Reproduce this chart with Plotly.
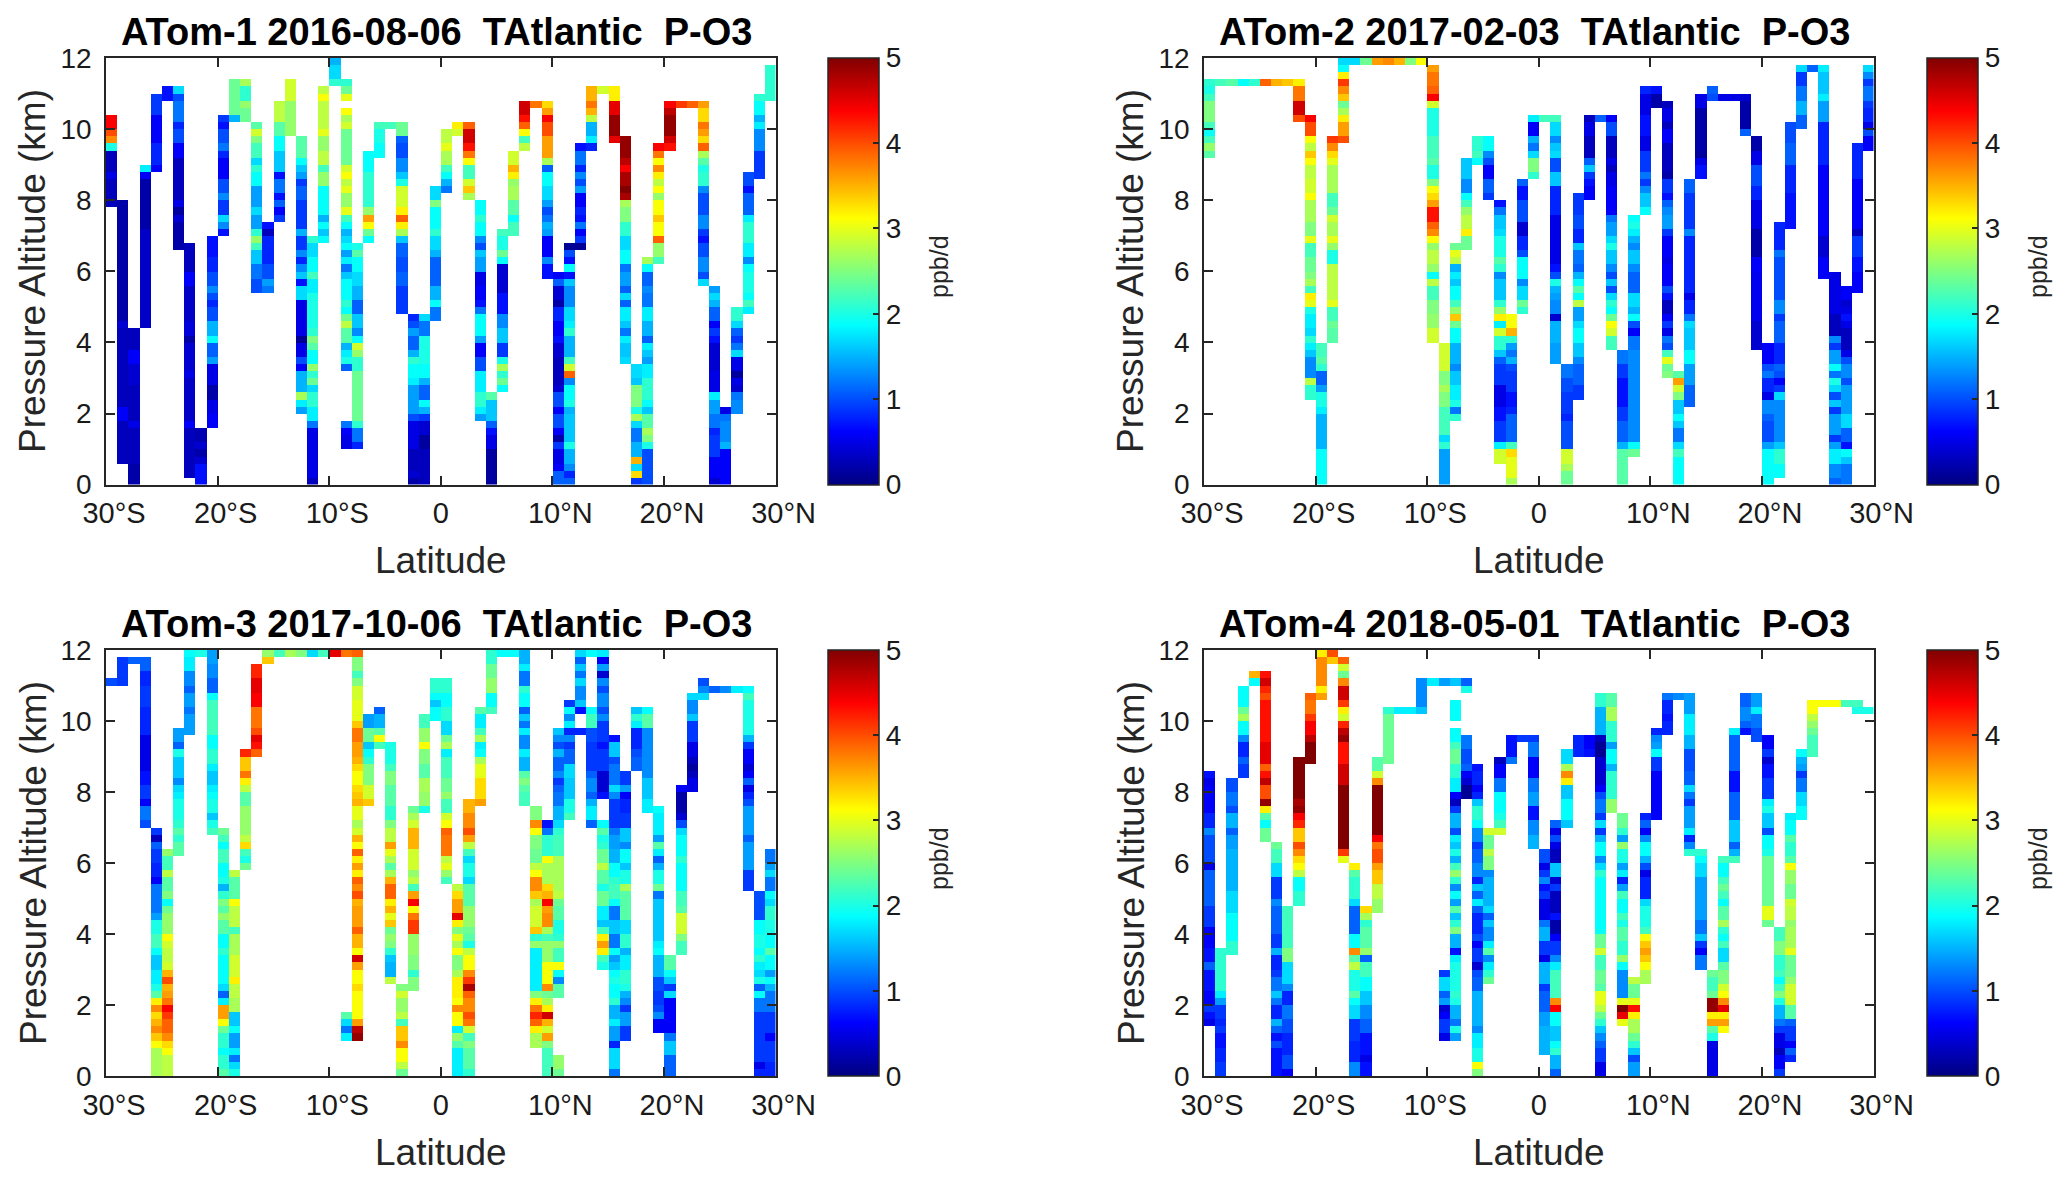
import numpy as np
import plotly.graph_objects as go

# (altitude_low_km, altitude_high_km, P-O3 ppb/d) runs, keyed by latitude bin index (0 = 30-29 deg S)
panel_titles = ["ATom-1 2016-08-06  TAtlantic  P-O3", "ATom-2 2017-02-03  TAtlantic  P-O3",
                "ATom-3 2017-10-06  TAtlantic  P-O3", "ATom-4 2018-05-01  TAtlantic  P-O3"]
lat_ticks = [-30, -20, -10, 0, 10, 20, 30]
lat_labels = ["\u00a0\u00a030°S", "\u00a0\u00a020°S", "\u00a0\u00a010°S", "0", "\u00a0\u00a010°N", "\u00a0\u00a020°N", "\u00a0\u00a030°N"]
alt_ticks = [0, 2, 4, 6, 8, 10, 12]
cbar_ticks = [0, 1, 2, 3, 4, 5]

atom1 = {
0:[(10.0,10.4,4.4),(9.8,10.0,4.0),(9.6,9.8,3.7),(9.4,9.6,2.0),(8.8,9.4,0.3),(8.6,8.8,0.5),(7.8,8.6,0.3)],
1:[(0.6,1.8,0.3),(1.8,2.2,0.6),(2.2,4.4,0.3),(4.4,4.6,0.4),(4.6,8.0,0.2)],
2:[(0,0.6,0.2),(0.6,1.6,0.3),(1.6,1.8,0.5),(1.8,2.8,0.3),(2.8,3.4,0.4),(3.4,3.8,0.6),(3.8,4.4,0.3)],
3:[(4.4,7.2,0.35),(7.2,8.6,0.2),(8.6,8.8,0.6),(8.8,9.0,1.8)],
4:[(8.8,9.0,0.6),(9.0,9.6,0.8),(9.6,10.4,0.6),(10.4,11.0,0.9)],
5:[(10.8,11.2,0.7)],
6:[(6.6,7.4,0.2),(7.4,7.6,0.4),(7.6,7.8,0.15),(7.8,8.0,0.5),(8.0,9.2,0.3),(9.2,9.6,0.6),(9.6,10.0,1.0),(10.0,10.2,0.8),(10.2,10.8,1.2),(10.8,11.0,1.0),(11.0,11.2,1.7)],
7:[(0.2,1.6,0.3),(1.6,1.8,0.6),(1.8,3.0,0.35),(3.0,3.2,0.5),(3.2,4.0,0.4),(4.0,4.2,0.2),(4.2,4.6,0.45),(4.6,5.6,0.35),(5.6,6.0,0.6),(6.0,6.8,0.3)],
8:[(0,0.6,0.7),(0.6,0.8,0.4),(0.8,1.0,0.2),(1.0,1.2,0.4),(1.2,1.6,0.25)],
9:[(1.6,2.0,0.6),(2.0,2.4,0.5),(2.4,2.8,0.2),(2.8,3.4,0.5),(3.4,3.6,1.4),(3.6,4.0,1.1),(4.0,4.2,1.9),(4.2,4.6,1.5),(4.6,5.0,1.0),(5.0,5.2,0.8),(5.2,5.4,1.0),(5.4,5.6,1.3),(5.6,6.0,1.0),(6.0,6.4,0.8),(6.4,7.0,0.7)],
10:[(7.0,7.2,0.7),(7.2,7.4,1.3),(7.4,7.6,1.7),(7.6,8.0,0.9),(8.0,8.2,1.3),(8.2,8.6,1.0),(8.6,9.2,0.6),(9.2,9.4,0.8),(9.4,9.6,1.2),(9.6,10.0,1.0),(10.0,10.2,0.7),(10.2,10.4,0.9)],
11:[(10.2,10.4,1.5),(10.4,11.4,2.4)],
12:[(10.2,10.6,2.4),(10.6,10.8,2.6),(10.8,11.2,2.1),(11.2,11.4,2.7)],
13:[(5.4,5.8,1.0),(5.8,6.2,1.2),(6.2,6.6,1.6),(6.6,6.8,2.2),(6.8,7.0,2.6),(7.0,7.2,2.1),(7.2,7.6,1.4),(7.6,7.8,1.7),(7.8,8.4,1.4),(8.4,8.8,1.9),(8.8,9.0,2.1),(9.0,9.2,1.7),(9.2,9.6,2.2),(9.6,9.8,2.5),(9.8,10.0,2.9),(10.0,10.2,2.3)],
14:[(5.4,5.6,1.2),(5.6,5.8,1.4),(5.8,6.2,1.0),(6.2,7.0,0.8),(7.0,7.2,0.3),(7.2,7.4,0.7)],
15:[(7.4,7.6,0.9),(7.6,7.8,0.6),(7.8,8.0,1.1),(8.0,8.2,0.7),(8.2,8.6,1.2),(8.6,8.8,0.7),(8.8,9.4,1.6),(9.4,9.8,1.9),(9.8,10.2,2.3),(10.2,10.8,2.8)],
16:[(9.8,10.8,2.6),(10.8,11.4,2.9)],
17:[(2.0,2.2,1.4),(2.2,2.4,1.8),(2.4,2.6,2.7),(2.6,3.2,1.5),(3.2,3.4,0.6),(3.4,3.6,1.0),(3.6,4.0,0.5),(4.0,4.2,0.1),(4.2,5.2,0.5),(5.2,5.6,1.7),(5.6,5.8,0.7),(5.8,6.0,1.6),(6.0,6.2,1.3),(6.2,6.4,0.8),(6.4,6.6,1.3),(6.6,7.0,0.9),(7.0,7.2,1.5),(7.2,8.0,0.9),(8.0,8.4,1.1),(8.4,8.6,0.9),(8.6,8.8,1.4),(8.8,9.0,1.6),(9.0,9.2,1.9),(9.2,9.8,2.3)],
18:[(0,0.2,0.3),(0.2,1.6,0.5),(1.6,1.8,1.2),(1.8,2.2,1.8),(2.2,2.6,2.1),(2.6,2.8,1.7),(2.8,3.0,2.4),(3.0,3.2,2.1),(3.2,3.4,2.6),(3.4,3.8,1.9),(3.8,4.0,2.3),(4.0,4.2,2.5),(4.2,4.4,2.1),(4.4,5.4,2.0),(5.4,5.8,1.8),(5.8,6.0,2.2),(6.0,6.4,1.9),(6.4,6.8,1.7),(6.8,7.0,2.1)],
19:[(6.8,7.0,1.9),(7.0,7.2,1.6),(7.2,7.4,1.9),(7.4,7.6,1.5),(7.6,8.4,1.9),(8.4,8.8,2.6),(8.8,9.0,2.2),(9.0,9.4,2.8),(9.4,9.8,2.6),(9.8,10.0,3.0),(10.0,10.8,2.8),(10.8,11.0,3.1),(11.0,11.2,2.8)],
20:[(11.2,11.4,2.1),(11.4,11.8,1.7),(11.8,12,1.5)],
21:[(1.0,1.4,0.5),(1.4,1.6,0.6),(1.6,1.8,1.2),(3.2,3.4,1.1),(3.4,3.6,2.0),(3.6,3.8,1.8),(3.8,4.0,1.5),(4.0,4.4,2.3),(4.4,4.6,2.8),(4.6,4.8,2.4),(4.8,5.0,1.9),(5.0,5.2,2.1),(5.2,5.8,1.9),(5.8,6.0,1.6),(6.0,6.2,1.2),(6.2,6.4,1.8),(6.4,6.6,1.4),(6.6,6.8,1.9),(6.8,7.0,1.7),(7.0,7.2,1.5),(7.2,7.4,1.9),(7.4,7.6,2.2),(7.6,7.8,3.0),(7.8,8.2,2.6),(8.2,8.4,3.0),(8.4,8.6,2.8),(8.6,8.8,3.1),(8.8,9.0,2.9),(9.0,10.0,2.4),(10.0,10.2,2.9),(10.2,10.4,2.7),(10.4,10.6,3.1),(10.8,11.0,3.0),(11.0,11.2,2.4),(11.2,11.4,2.1)],
22:[(1.0,1.2,0.8),(1.2,1.6,1.2),(1.6,1.8,2.1),(1.8,3.2,2.4),(3.2,3.6,2.1),(3.6,3.8,2.6),(3.8,4.0,2.9),(4.0,4.2,1.9),(4.2,4.4,1.3),(4.4,4.8,1.6),(4.8,5.2,1.1),(5.2,5.6,1.5),(5.6,6.0,1.7),(6.0,6.4,1.9),(6.4,6.6,2.3),(6.6,6.8,2.0)],
23:[(6.8,7.0,1.9),(7.0,7.2,2.4),(7.2,7.4,3.1),(7.4,7.6,3.6),(7.6,7.8,2.6),(7.8,8.8,2.1),(8.8,9.4,1.9)],
24:[(9.2,9.6,1.9),(9.6,10.0,2.0),(10.0,10.2,2.2)],
25:[(10.0,10.2,2.2)],
26:[(4.8,5.6,0.9),(5.6,6.0,1.1),(6.0,6.4,1.0),(6.4,6.8,1.1),(6.8,7.0,1.6),(7.0,7.2,2.7),(7.2,7.4,3.2),(7.4,7.6,3.9),(7.6,7.8,3.2),(7.8,8.4,2.9),(8.4,8.6,2.0),(8.6,8.8,1.6),(8.8,9.2,1.3),(9.2,9.6,1.0),(9.6,9.8,1.1),(9.8,10.2,2.4)],
27:[(0,0.2,0.2),(0.2,0.4,0.4),(0.4,1.0,0.3),(1.0,1.8,0.5),(1.8,2.0,1.0),(2.0,2.8,1.4),(2.8,3.0,1.8),(3.0,3.4,1.9),(3.4,3.6,2.1),(3.6,3.8,1.5),(3.8,4.2,1.1),(4.2,4.4,1.4),(4.4,4.6,1.0),(4.6,4.8,0.8)],
28:[(0,1.0,0.3),(1.0,1.4,0.15),(1.4,1.8,0.4),(1.8,2.0,0.9),(2.0,2.2,1.5),(2.2,2.4,1.9),(2.4,2.8,1.1),(2.8,3.0,1.5),(3.0,3.4,1.9),(3.4,4.2,2.0),(4.2,4.6,1.2),(4.6,4.8,1.7)],
29:[(4.6,5.0,1.2),(5.0,5.2,1.9),(5.2,5.6,1.5),(5.6,6.4,1.1),(6.4,6.6,1.5),(6.6,7.0,1.7),(7.0,7.2,2.1),(7.2,7.8,1.9),(7.8,8.0,2.5),(8.0,8.4,1.7)],
30:[(8.2,8.4,1.2),(8.4,8.6,1.5),(8.6,8.8,1.9),(8.8,9.0,2.2),(9.0,9.4,2.7),(9.4,9.6,3.0),(9.6,10.0,2.8)],
31:[(10.0,10.2,3.2),(9.8,10.0,2.9)],
32:[(8.0,8.2,2.7),(8.2,8.4,3.4),(8.4,8.6,2.9),(8.6,9.0,2.2),(9.0,9.2,3.1),(9.2,9.4,3.8),(9.4,9.6,4.3),(9.6,10.0,4.6),(10.0,10.2,3.9)],
33:[(1.8,2.0,1.4),(2.0,2.2,1.8),(2.2,2.6,2.1),(2.6,3.2,1.8),(3.2,3.6,1.0),(3.6,4.0,0.6),(4.0,4.2,1.4),(4.2,4.8,1.9),(4.8,5.0,1.2),(5.0,5.2,0.7),(5.2,5.6,0.6),(5.6,6.0,0.5),(6.0,6.4,1.4),(6.4,6.6,1.6),(6.6,6.8,1.0),(6.8,7.0,1.3),(7.0,7.4,1.9),(7.4,7.6,2.1),(7.6,8.0,1.9)],
34:[(0,1.0,0.15),(1.0,1.4,0.5),(1.4,1.6,0.7),(1.6,1.8,1.1),(1.8,2.4,1.6),(2.4,2.6,2.3)],
35:[(2.6,2.8,1.9),(2.8,3.0,2.4),(3.0,3.2,2.1),(3.2,3.4,2.7),(3.4,3.6,2.0),(3.6,4.0,0.9),(4.0,4.4,1.6),(4.4,4.8,1.3),(4.8,5.4,0.7),(5.4,6.2,0.4),(6.2,6.4,1.9),(6.4,6.6,2.4),(6.6,7.0,2.0),(7.0,7.2,2.2)],
36:[(7.0,7.4,2.2),(7.4,7.6,1.9),(7.6,8.0,2.3),(8.0,8.4,2.7),(8.4,8.6,2.6),(8.6,8.8,3.2),(8.8,9.0,3.5),(9.0,9.4,2.9)],
37:[(9.4,9.6,2.8),(9.6,9.8,2.2),(9.8,10.0,3.1),(10.0,10.2,3.9),(10.2,10.4,4.3),(10.4,10.8,4.6)],
38:[(10.6,10.8,3.8)],
39:[(5.8,6.2,0.7),(6.2,6.4,1.3),(6.4,7.0,0.6),(7.0,7.2,1.4),(7.2,7.4,1.5),(7.4,7.6,1.2),(7.6,7.8,1.0),(7.8,8.0,1.4),(8.0,8.4,1.7),(8.4,8.8,1.9),(8.8,9.0,1.1),(9.0,9.2,2.7),(9.2,9.8,3.6),(9.8,10.2,4.0),(10.2,10.4,4.4),(10.4,10.6,3.6),(10.6,10.8,3.3)],
40:[(0,0.4,1.1),(0.4,0.6,0.6),(0.6,1.0,0.5),(1.0,1.2,0.9),(1.2,1.4,0.2),(1.4,1.6,0.6),(1.6,2.0,1.0),(2.0,2.2,0.6),(2.2,2.6,1.0),(2.6,2.8,0.4),(2.8,3.6,0.3),(3.6,4.0,0.4),(4.0,4.2,0.7),(4.2,4.6,0.6),(4.6,5.0,0.8),(5.0,5.2,0.2),(5.2,5.6,0.4),(5.6,5.8,1.1),(5.8,6.0,0.6)],
41:[(0,0.2,1.1),(0.2,0.4,0.8),(0.4,0.6,1.3),(0.6,1.0,1.5),(1.0,1.2,2.0),(1.2,2.0,1.6),(2.0,2.2,1.5),(2.2,2.4,2.0),(2.4,2.8,1.9),(2.8,3.0,1.3),(3.0,3.2,3.9),(3.2,3.4,2.9),(3.4,3.6,2.2),(3.6,4.2,1.5),(4.2,4.4,2.1),(4.4,4.6,1.8),(4.6,5.0,1.7),(5.0,5.6,1.3),(5.6,5.8,1.6),(5.8,6.0,0.7),(6.0,6.2,1.9),(6.2,6.4,0.7),(6.4,6.6,1.0),(6.6,6.8,0.1)],
42:[(6.6,6.8,0.1),(6.8,7.0,0.9),(7.0,7.2,0.6),(7.2,7.4,1.2),(7.4,7.6,0.7),(7.6,7.8,0.8),(7.8,8.2,0.6),(8.2,8.4,1.4),(8.4,8.6,1.0),(8.6,8.8,1.3),(8.8,9.0,0.8),(9.0,9.4,1.2),(9.4,9.6,0.7)],
43:[(9.4,9.6,0.8),(9.6,9.8,1.8),(9.8,10.2,1.5),(10.2,10.4,2.8),(10.4,10.6,3.5),(10.6,10.8,3.8),(10.8,11.2,3.5)],
44:[(11.0,11.2,2.9)],
45:[(9.6,9.8,4.5),(9.8,10.4,4.9),(10.4,10.8,4.5),(10.8,11.2,3.2)],
46:[(3.4,3.6,1.7),(3.6,4.0,1.6),(4.0,4.2,1.8),(4.2,4.4,1.2),(4.4,4.6,1.6),(4.6,5.0,1.8),(5.0,5.2,1.1),(5.2,5.4,1.7),(5.4,5.6,1.1),(5.6,6.0,1.4),(6.0,6.2,1.2),(6.2,6.6,1.9),(6.6,7.0,1.7),(7.0,7.4,2.1),(7.4,7.8,2.5),(7.8,8.0,2.7),(8.0,8.2,4.8),(8.2,8.4,5.0),(8.4,8.8,4.8),(8.8,9.0,4.4),(9.0,9.2,4.7),(9.2,9.8,4.9)],
47:[(0,0.2,0.9),(0.2,0.4,3.3),(0.4,0.6,1.7),(0.6,0.8,3.5),(0.8,1.2,1.5),(1.2,1.6,1.2),(1.6,1.8,1.7),(1.8,2.0,2.7),(2.0,2.2,2.0),(2.2,2.8,2.5),(2.8,3.0,1.6),(3.0,3.4,1.7)],
48:[(0,1.0,1.0),(1.0,1.2,2.0),(1.2,1.4,2.5),(1.4,1.6,2.7),(1.6,2.0,2.3),(2.0,2.2,1.6),(2.2,2.4,1.9),(2.4,3.0,2.1),(3.0,3.4,1.8),(3.4,3.6,1.4),(3.6,3.8,1.6),(3.8,4.0,1.8),(4.0,4.2,1.1),(4.2,4.6,1.5),(4.6,5.0,1.8),(5.0,5.4,1.2),(5.4,5.6,1.3),(5.6,6.0,1.1),(6.0,6.2,1.9),(6.2,6.4,2.7)],
49:[(6.2,6.4,2.2),(6.4,6.8,2.6),(6.8,7.0,3.9),(7.0,7.4,3.1),(7.4,7.6,3.4),(7.6,8.0,3.1),(8.0,8.2,2.6),(8.2,8.4,3.1),(8.4,8.6,2.8),(8.6,8.8,3.2),(8.8,9.0,3.7),(9.0,9.2,3.1),(9.2,9.4,3.8),(9.4,9.6,4.4)],
50:[(9.4,9.6,4.3),(9.6,9.8,4.6),(9.8,10.4,4.9),(10.4,10.6,4.7),(10.6,10.8,4.4)],
51:[(10.6,10.8,4.1)],
52:[(10.6,10.8,3.9)],
53:[(5.6,5.8,1.7),(5.8,6.0,1.0),(6.0,6.4,1.3),(6.4,6.8,1.0),(6.8,7.0,0.7),(7.0,7.2,0.9),(7.2,7.6,1.3),(7.6,8.2,1.0),(8.2,8.4,1.3),(8.4,8.8,2.1),(8.8,9.0,2.0),(9.0,9.2,2.3),(9.2,9.4,2.7),(9.4,9.6,3.9),(9.6,9.8,3.3),(9.8,10.0,3.6),(10.0,10.2,3.8),(10.2,10.6,3.3),(10.6,10.8,3.6)],
54:[(0,0.2,0.4),(0.2,0.8,0.6),(0.8,1.4,0.9),(1.4,1.6,0.8),(1.6,2.0,1.2),(2.0,2.4,1.4),(2.4,2.6,1.8),(2.6,3.2,0.5),(3.2,4.0,0.4),(4.0,4.2,0.7),(4.2,4.4,0.9),(4.4,4.6,0.6),(4.6,5.0,1.1),(5.0,5.2,1.5),(5.2,5.4,1.7),(5.4,5.6,1.4)],
55:[(0,1.0,0.6),(1.0,1.2,1.5),(1.2,1.8,1.3),(1.8,2.0,1.2),(2.0,2.2,0.5)],
56:[(2.0,2.4,1.3),(2.4,2.6,1.2),(2.6,2.8,0.4),(2.8,3.0,0.5),(3.0,3.2,0.15),(3.2,3.6,0.5),(3.6,3.8,1.7),(3.8,4.0,1.2),(4.0,4.2,0.9),(4.2,4.4,1.1),(4.4,4.6,1.7),(4.6,5.0,2.1)],
57:[(4.8,5.0,1.8),(5.0,5.2,2.2),(5.2,5.4,1.9),(5.4,6.0,2.0),(6.0,6.2,1.9),(6.2,6.4,1.3),(6.4,6.8,1.8),(6.8,7.4,2.1),(7.4,7.6,1.8),(7.6,8.2,1.1),(8.2,8.4,0.7),(8.4,8.8,1.0)],
58:[(8.6,9.4,0.9),(9.4,10.0,1.3),(10.0,10.2,1.8),(10.2,10.4,1.5),(10.4,10.8,1.9),(10.8,11.0,2.1)],
59:[(10.8,11.8,2.1)],
}

atom2 = {
0:[(9.2,9.4,2.3),(9.4,9.6,2.6),(9.6,9.8,2.2),(9.8,10.0,1.9),(10.0,10.2,2.2),(10.2,10.8,2.5),(10.8,11.0,2.2),(11.0,11.2,2.0),(11.2,11.4,2.1)],
1:[(11.2,11.4,2.2)],2:[(11.2,11.4,2.3)],3:[(11.2,11.4,1.9)],4:[(11.2,11.4,2.1)],5:[(11.2,11.4,3.9)],6:[(11.2,11.4,3.5)],7:[(11.2,11.4,3.4)],
8:[(10.2,10.4,4.0),(10.4,10.8,4.6),(10.8,11.2,3.8),(11.2,11.4,3.2)],
9:[(2.4,2.8,2.1),(2.8,3.0,2.8),(3.0,3.6,1.3),(3.6,3.8,1.6),(3.8,4.0,1.8),(4.0,4.2,2.1),(4.2,4.4,1.7),(4.4,4.8,1.8),(4.8,5.0,2.0),(5.0,5.2,3.0),(5.2,5.4,3.2),(5.4,5.6,2.2),(5.6,5.8,2.7),(5.8,6.0,2.5),(6.0,6.4,2.4),(6.4,6.8,2.2),(6.8,7.0,3.0),(7.0,7.4,2.5),(7.4,8.0,2.7),(8.0,8.2,3.1),(8.2,8.6,2.9),(8.6,9.0,2.8),(9.0,9.2,3.1),(9.2,9.4,3.4),(9.4,9.6,2.8),(9.6,9.8,3.1),(9.8,10.2,4.0),(10.2,10.4,4.4)],
10:[(0,1.0,1.9),(1.0,2.0,1.5),(2.0,2.2,1.8),(2.2,2.6,2.0),(2.6,2.8,1.4),(2.8,3.2,1.1),(3.2,3.4,2.1),(3.4,3.6,2.3),(3.6,4.0,2.2)],
11:[(4.0,4.4,2.3),(4.4,4.6,2.4),(4.6,5.0,2.2),(5.0,5.2,3.0),(5.2,6.2,2.8),(6.2,6.6,2.0),(6.6,6.8,2.6),(6.8,7.0,3.0),(7.0,7.4,2.7),(7.4,7.6,2.9),(7.6,7.8,2.4),(7.8,8.2,2.2),(8.2,9.0,2.7),(9.0,9.2,3.0),(9.2,9.4,3.3),(9.4,9.6,3.7),(9.6,9.8,4.1)],
12:[(9.6,9.8,4.0),(9.8,10.2,3.6),(10.2,10.4,3.2),(10.4,10.6,2.7),(10.6,10.8,2.4),(10.8,11.0,3.4),(11.0,11.2,3.7),(11.2,11.4,4.1),(11.4,11.6,3.2),(11.6,11.8,1.9),(11.8,12.0,1.7)],
13:[(11.8,12,1.7)],14:[(11.8,12,2.4)],15:[(11.8,12,3.6)],16:[(11.8,12,3.7)],17:[(11.8,12,3.5)],18:[(11.8,12,2.5)],19:[(11.8,12,3.1)],
20:[(4.0,4.4,2.9),(4.4,4.8,2.6),(4.8,5.2,2.5),(5.2,5.6,2.2),(5.6,5.8,2.8),(5.8,6.0,1.9),(6.0,6.2,2.6),(6.2,6.6,2.8),(6.6,6.8,2.6),(6.8,7.0,3.1),(7.0,7.2,3.7),(7.2,7.4,3.9),(7.4,7.8,4.3),(7.8,8.0,3.6),(8.0,8.2,3.3),(8.2,8.4,3.1),(8.4,8.6,2.5),(8.6,9.0,2.0),(9.0,9.2,2.3),(9.2,9.8,2.2),(9.8,10.6,2.0),(10.6,10.8,2.9),(10.8,11.0,4.4),(11.0,11.2,3.9),(11.2,11.6,3.8),(11.6,11.8,3.6)],
21:[(0,1.0,1.4),(1.0,1.2,2.1),(1.2,1.4,1.7),(1.4,2.2,2.2),(2.2,2.6,2.5),(2.6,2.8,2.7),(2.8,3.2,2.5),(3.2,4.0,2.9)],
22:[(1.8,2.0,2.1),(2.0,2.2,1.2),(2.2,2.4,2.0),(2.4,2.8,1.8),(2.8,3.2,1.6),(3.2,3.4,1.3),(3.4,4.0,1.5),(4.0,4.4,1.9),(4.4,4.6,2.4),(4.6,4.8,3.4),(4.8,5.0,2.6),(5.0,5.2,2.2),(5.2,5.6,1.9),(5.6,5.8,1.6),(5.8,6.0,1.8),(6.0,6.2,1.5),(6.2,6.4,2.8),(6.4,6.6,3.0),(6.6,6.8,2.4)],
23:[(6.6,7.0,2.4),(7.0,7.2,3.2),(7.2,7.6,2.8),(7.6,7.8,2.6),(7.8,8.0,2.2),(8.0,8.2,1.9),(8.2,8.6,1.3),(8.6,9.2,1.6)],
24:[(9.0,9.2,1.9),(9.2,9.4,2.2),(9.4,9.8,2.1)],
25:[(8.0,8.2,0.9),(8.2,8.6,1.1),(8.6,9.0,0.6),(9.0,9.2,1.0),(9.2,9.4,1.3),(9.4,9.8,1.9)],
26:[(0.6,1.0,2.9),(1.0,1.2,1.8),(1.2,1.8,0.9),(1.8,2.2,0.7),(2.2,2.8,0.5),(2.8,3.4,0.9),(3.4,3.6,1.1),(3.6,3.8,1.6),(3.8,4.2,2.1),(4.2,4.4,2.9),(4.4,4.6,1.8),(4.6,4.8,3.2),(4.8,5.0,2.6),(5.0,5.2,2.1),(5.2,5.8,1.6),(5.8,6.0,1.3),(6.0,6.2,2.1),(6.2,6.4,2.3),(6.4,7.0,2.0),(7.0,7.2,1.7),(7.2,7.6,1.6),(7.6,7.8,1.2),(7.8,8.0,0.7)],
27:[(0,0.2,2.7),(0.2,0.8,3.0),(0.8,1.0,3.3),(1.0,1.2,2.2),(1.2,2.0,1.1),(2.0,2.2,0.8),(2.2,2.6,0.7),(2.6,3.2,0.9),(3.2,3.4,1.0),(3.4,3.6,1.5),(3.6,3.8,1.2),(3.8,4.0,1.4),(4.0,4.2,2.1),(4.2,4.4,3.5),(4.4,4.8,3.1)],
28:[(4.8,5.0,2.1),(5.0,5.2,2.4),(5.2,5.6,1.7),(5.6,5.8,1.3),(5.8,6.4,1.9),(6.4,6.6,1.0),(6.6,7.0,0.8),(7.0,7.4,0.4),(7.4,8.0,1.0),(8.0,8.4,0.7),(8.4,8.6,1.1)],
29:[(8.6,8.8,2.1),(8.8,9.2,2.5),(9.2,9.4,1.7),(9.4,9.6,1.2),(9.6,9.8,1.5),(9.8,10.2,0.6),(10.2,10.4,1.8)],
30:[(10.2,10.4,2.2)],
31:[(3.4,4.0,1.4),(4.0,4.6,1.5),(4.6,4.8,0.4),(4.8,5.2,1.3),(5.2,5.4,1.4),(5.4,5.6,1.5),(5.6,5.8,2.0),(5.8,6.0,1.0),(6.0,6.2,0.7),(6.2,7.2,0.5),(7.2,7.6,0.5),(7.6,8.4,0.8),(8.4,8.8,1.6),(8.8,9.2,1.0),(9.2,9.4,1.7),(9.4,9.6,1.6),(9.6,9.8,1.3),(9.8,10.2,1.7),(10.2,10.4,2.2)],
32:[(0,0.4,2.4),(0.4,0.6,2.7),(0.6,1.0,2.9),(1.0,1.8,1.0),(1.8,2.0,0.8),(2.0,2.6,0.9),(2.6,3.0,1.0),(3.0,3.4,1.2)],
33:[(2.4,2.8,0.9),(2.8,3.4,1.1),(3.4,3.6,1.3),(3.6,4.0,1.6),(4.0,4.4,1.9),(4.4,4.6,1.7),(4.6,5.0,1.4),(5.0,5.2,2.8),(5.2,5.4,1.9),(5.4,5.6,2.3),(5.6,5.8,1.9),(5.8,6.0,1.5),(6.0,6.2,1.1),(6.2,6.6,1.2),(6.6,6.8,1.6),(6.8,7.2,0.8),(7.2,7.6,1.0),(7.6,8.2,0.9)],
34:[(8.0,8.4,0.6),(8.4,8.6,0.7),(8.6,8.8,0.9),(8.8,9.0,1.6),(9.0,9.2,1.1),(9.2,9.8,0.3),(9.8,10.2,0.5),(10.2,10.4,0.3)],
35:[(10.2,10.4,1.1)],
36:[(3.8,4.2,2.2),(4.2,4.4,2.9),(4.4,4.6,3.1),(4.6,4.8,2.4),(4.8,5.0,1.9),(5.0,5.2,2.1),(5.2,5.4,1.7),(5.4,5.6,1.0),(5.6,5.8,1.6),(5.8,6.0,1.0),(6.0,6.2,1.3),(6.2,6.6,1.6),(6.6,6.8,2.0),(6.8,7.0,1.7),(7.0,7.4,1.4),(7.4,7.6,1.2),(7.6,8.4,0.6),(8.4,8.8,0.5),(8.8,9.0,0.3),(9.0,9.2,0.5),(9.2,9.8,0.3),(9.8,10.2,1.0),(10.2,10.4,0.6)],
37:[(0,1.0,2.3),(1.0,1.2,1.5),(1.2,1.8,1.1),(1.8,2.2,0.9),(2.2,3.0,0.7),(3.0,3.4,0.9),(3.4,3.8,1.2)],
38:[(0.8,1.0,2.4),(1.0,1.2,1.9),(1.2,3.8,1.3),(3.8,4.2,1.2),(4.2,4.4,0.6),(4.4,4.6,1.0),(4.6,4.8,1.9),(4.8,5.0,1.5),(5.0,5.4,1.7),(5.4,6.0,1.1),(6.0,6.2,1.3),(6.2,6.6,1.6),(6.6,6.8,1.3),(6.8,7.0,1.5),(7.0,7.2,1.8),(7.2,7.4,2.0),(7.4,7.6,1.9)],
39:[(7.6,7.8,1.9),(7.8,8.2,1.6),(8.2,8.4,1.3),(8.4,8.6,0.9),(8.6,8.8,1.2),(8.8,9.4,0.9),(9.4,9.8,0.5),(9.8,10.4,0.7),(10.4,11.0,0.5),(11.0,11.2,0.8)],
40:[(10.6,11.0,0.2),(11.0,11.2,0.7)],
41:[(3.0,3.2,2.5),(3.2,3.4,2.4),(3.4,3.6,3.0),(3.6,3.8,2.2),(3.8,4.0,1.0),(4.0,4.2,1.2),(4.2,4.4,0.5),(4.4,4.6,0.9),(4.6,4.8,0.6),(4.8,5.2,0.3),(5.2,5.4,0.7),(5.4,5.6,1.0),(5.6,6.2,0.6),(6.2,6.4,0.5),(6.4,7.0,0.6),(7.0,7.2,0.9),(7.2,7.6,1.4),(7.6,7.8,1.3),(7.8,8.0,1.1),(8.0,8.2,0.7),(8.2,8.6,0.9),(8.6,8.8,0.2),(8.8,9.6,0.3),(9.6,10.0,0.6),(10.0,10.2,0.3),(10.2,10.6,0.5),(10.6,10.8,0.3)],
42:[(0,0.8,1.9),(0.8,1.0,2.2),(1.0,1.2,1.7),(1.2,1.6,1.2),(1.6,1.8,1.6),(1.8,2.0,1.9),(2.0,2.4,1.6),(2.4,2.6,2.5),(2.6,2.8,2.9),(2.8,3.0,3.6),(3.0,3.2,2.3)],
43:[(2.2,2.8,1.1),(2.8,3.4,1.4),(3.4,3.8,1.9),(3.8,4.4,1.6),(4.4,4.6,1.7),(4.6,4.8,1.2),(4.8,5.2,0.8),(5.2,5.4,0.5),(5.4,7.0,0.8),(7.0,7.2,1.3),(7.2,7.6,0.9),(7.6,8.2,0.9),(8.2,8.6,1.1)],
44:[(8.6,9.0,0.7),(9.0,9.2,0.5),(9.2,9.4,0.15),(9.4,10.6,0.2),(10.6,11.0,0.5)],
45:[(10.8,11.0,1.0),(11.0,11.2,1.1)],
46:[(10.8,11.0,0.5)],47:[(10.8,11.0,0.5)],
48:[(9.8,10.0,1.1),(10.0,10.8,0.2),(10.8,11.0,0.4)],
49:[(3.8,4.6,0.4),(4.6,6.0,0.55),(6.0,6.4,0.6),(6.4,7.2,0.2),(7.2,8.0,0.5),(8.0,8.4,0.8),(8.4,9.0,1.0),(9.0,9.4,0.5),(9.4,9.8,0.2)],
50:[(0,1.0,1.9),(1.0,1.2,1.4),(1.2,1.8,1.0),(1.8,2.0,1.1),(2.0,2.4,1.3),(2.4,2.6,0.5),(2.6,3.0,0.8),(3.0,3.2,1.2),(3.2,3.4,1.0),(3.4,4.0,0.6)],
51:[(0.2,0.6,1.9),(0.6,1.0,2.1),(1.0,1.2,1.6),(1.2,2.4,1.3),(2.4,2.6,1.7),(2.6,2.8,0.9),(2.8,3.0,0.6),(3.0,3.2,1.0),(3.2,3.4,1.1),(3.4,4.0,0.8),(4.0,4.6,1.1),(4.6,4.8,0.9),(4.8,5.2,1.3),(5.2,6.4,1.0),(6.4,6.6,1.2),(6.6,7.4,0.8)],
52:[(7.2,8.2,0.7),(8.2,9.0,0.8),(9.0,9.6,1.1),(9.6,10.2,1.0)],
53:[(10.0,10.4,1.1),(10.4,10.8,1.5),(10.8,11.2,1.2),(11.2,11.6,0.9),(11.6,11.8,1.7)],
54:[(11.6,11.8,1.1)],
55:[(5.8,6.4,0.6),(6.4,7.0,0.4),(7.0,9.0,0.6),(9.0,10.2,0.8),(10.2,10.8,1.4),(10.8,11.0,1.8),(11.0,11.6,1.6),(11.6,11.8,1.8)],
56:[(0,0.2,1.1),(0.2,0.6,1.3),(0.6,1.0,1.8),(1.0,1.2,1.4),(1.2,1.4,0.9),(1.4,2.0,1.4),(2.0,2.2,0.9),(2.2,2.4,1.6),(2.4,2.6,1.0),(2.6,2.8,1.7),(2.8,3.0,2.0),(3.0,3.2,1.2),(3.2,3.4,1.9),(3.4,3.8,1.4),(3.8,4.0,0.9),(4.0,4.2,1.3),(4.2,4.8,0.3),(4.8,6.0,0.5)],
57:[(0,0.6,1.2),(0.6,0.8,1.6),(0.8,1.0,1.9),(1.0,1.2,0.7),(1.2,1.6,1.1),(1.6,2.0,1.7),(2.0,2.8,1.4),(2.8,3.0,1.0),(3.0,3.4,1.3),(3.4,3.6,1.0),(3.6,3.8,0.5),(3.8,4.4,0.3),(4.4,4.6,0.5),(4.6,4.8,0.7),(4.8,5.0,0.5),(5.0,5.2,0.4),(5.2,5.6,0.6)],
58:[(5.4,6.0,0.6),(6.0,6.4,0.7),(6.4,7.0,0.9),(7.0,7.2,0.3),(7.2,8.6,0.6),(8.6,9.6,0.8)],
59:[(9.4,9.8,0.6),(9.8,10.0,1.0),(10.0,10.2,0.5),(10.2,10.6,0.8),(10.6,10.8,0.9),(10.8,11.2,1.2),(11.2,11.4,0.9),(11.4,11.6,1.3),(11.6,11.8,1.7)],
}

atom3 = {
0:[(11.0,11.2,1.0)],
1:[(11.0,11.8,0.9)],
2:[(11.6,11.8,1.1)],
3:[(7.0,7.2,1.0),(7.2,7.6,1.2),(7.6,7.8,0.6),(7.8,8.2,0.9),(8.2,8.6,0.7),(8.6,9.6,0.5),(9.6,10.4,0.8),(10.4,11.0,0.9),(11.0,11.4,0.8),(11.4,11.8,1.1)],
4:[(0,0.8,2.7),(0.8,1.0,3.1),(1.0,1.2,3.4),(1.2,1.4,3.7),(1.4,1.6,3.5),(1.6,1.8,3.3),(1.8,2.0,3.7),(2.0,2.2,3.2),(2.2,2.4,2.3),(2.4,2.6,2.0),(2.6,3.0,1.8),(3.0,3.4,1.6),(3.4,3.6,1.9),(3.6,4.0,2.2),(4.0,4.4,2.0),(4.4,4.6,1.4),(4.6,5.4,1.2),(5.4,5.6,0.6),(5.6,6.0,0.8),(6.0,6.4,0.9),(6.4,6.6,1.1),(6.6,6.8,0.3),(6.8,7.0,0.9)],
5:[(0,0.6,2.8),(0.6,0.8,3.1),(0.8,1.0,3.3),(1.0,1.2,3.7),(1.2,1.6,3.9),(1.6,1.8,4.1),(1.8,2.0,4.4),(2.0,2.2,3.8),(2.2,2.4,3.6),(2.4,2.6,3.5),(2.6,2.8,4.0),(2.8,3.0,3.5),(3.0,3.2,2.9),(3.2,3.6,2.8),(3.6,3.8,2.9),(3.8,4.0,3.1),(4.0,4.6,2.6),(4.6,4.8,2.4),(4.8,5.0,1.9),(5.0,5.2,2.5),(5.2,5.6,2.3),(5.6,5.8,2.8),(5.8,6.2,2.2),(6.2,6.4,2.6)],
6:[(6.2,6.6,2.3),(6.6,6.8,2.1),(6.8,7.0,2.3),(7.0,7.2,2.1),(7.2,7.8,2.0),(7.8,8.0,1.8),(8.0,8.2,1.7),(8.2,8.4,1.3),(8.4,9.0,1.6),(9.0,9.2,2.0),(9.2,9.4,1.1),(9.4,9.8,1.4)],
7:[(9.6,10.2,1.4),(10.2,10.4,1.2),(10.4,10.8,1.4),(10.8,11.0,1.1),(11.0,11.4,1.3),(11.4,11.8,1.8),(11.8,12,1.9)],
8:[(11.8,12,2.0)],
9:[(6.8,7.0,2.2),(7.0,7.2,2.0),(7.2,7.4,1.6),(7.4,7.8,2.0),(7.8,8.0,1.9),(8.0,8.2,1.8),(8.2,8.6,1.6),(8.6,8.8,1.8),(8.8,9.2,2.1),(9.2,9.6,1.9),(9.6,10.6,2.2),(10.6,10.8,1.9),(10.8,11.2,1.1),(11.2,11.6,1.3),(11.6,12,1.4)],
10:[(0,0.2,2.3),(0.2,0.6,2.1),(0.6,0.8,1.9),(0.8,1.2,2.1),(1.2,1.4,2.4),(1.4,1.6,3.1),(1.6,2.0,3.6),(2.0,2.2,1.8),(2.2,2.4,1.1),(2.4,2.6,1.7),(2.6,3.4,1.9),(3.4,3.6,2.1),(3.6,4.0,1.9),(4.0,4.4,2.3),(4.4,4.6,2.6),(4.6,4.8,2.3),(4.8,5.0,2.5),(5.0,5.2,2.1),(5.2,5.4,1.5),(5.4,5.6,2.0),(5.6,6.0,1.9),(6.0,6.4,2.2),(6.4,6.6,1.9),(6.6,6.8,2.2),(6.8,7.0,2.4)],
11:[(0,0.2,2.0),(0.2,0.4,1.7),(0.4,0.6,1.2),(0.6,0.8,1.8),(0.8,1.2,1.4),(1.2,1.4,1.9),(1.4,1.8,1.6),(1.8,2.2,2.7),(2.2,2.6,2.8),(2.6,2.8,3.2),(2.8,3.4,2.9),(3.4,4.0,2.7),(4.0,4.2,2.2),(4.2,4.8,2.8),(4.8,5.0,3.1),(5.0,5.6,2.3),(5.6,5.8,2.8)],
12:[(5.8,6.0,2.4),(6.0,6.2,2.0),(6.2,6.4,2.2),(6.4,6.6,3.3),(6.6,6.8,2.8),(6.8,7.6,2.6),(7.6,8.0,2.3),(8.0,8.2,2.8),(8.2,8.4,3.2),(8.4,8.6,3.8),(8.6,9.0,3.4),(9.0,9.2,4.2)],
13:[(9.0,9.2,3.9),(9.2,9.4,4.3),(9.4,9.6,4.5),(9.6,9.8,4.0),(9.8,10.4,3.8),(10.4,10.8,4.4),(10.8,11.2,4.5),(11.2,11.6,4.2)],
14:[(11.6,11.8,3.4),(11.8,12,2.6)],
15:[(11.8,12,2.2)],16:[(11.8,12,2.7)],17:[(11.8,12,2.5)],18:[(11.8,12,1.7)],19:[(11.8,12,2.2)],20:[(11.8,12,4.5)],
21:[(1.0,1.2,1.8),(1.2,1.4,1.2),(1.4,1.6,1.7),(1.6,1.8,2.3),(11.8,12,3.8)],
22:[(1.0,1.2,4.9),(1.2,1.4,4.7),(1.4,1.6,3.6),(1.6,2.4,3.1),(2.4,2.6,3.3),(2.6,3.0,3.1),(3.0,3.2,3.6),(3.2,3.4,4.6),(3.4,3.6,3.1),(3.6,4.0,3.5),(4.0,4.2,3.9),(4.2,4.8,3.6),(4.8,5.0,3.5),(5.0,5.2,4.0),(5.2,5.4,3.7),(5.4,5.6,3.9),(5.6,5.8,3.2),(5.8,6.0,3.6),(6.0,6.2,3.2),(6.2,6.4,3.9),(6.4,6.6,3.1),(6.6,6.8,3.5),(6.8,7.0,2.9),(7.0,7.2,2.7),(7.2,7.6,3.0),(7.6,7.8,3.5),(7.8,8.0,3.4),(8.0,8.2,3.3),(8.2,8.6,3.1),(8.6,8.8,3.3),(8.8,9.0,3.5),(9.0,9.4,3.6),(9.4,9.8,3.8),(9.8,10.0,3.4),(10.0,10.6,3.0),(10.6,11.0,2.9),(11.0,11.2,2.5),(11.2,11.4,2.2),(11.4,11.8,2.5),(11.8,12,3.9)],
23:[(7.6,7.8,3.4),(7.8,8.2,2.9),(8.2,8.8,2.5),(8.8,9.0,2.1),(9.0,9.2,1.9),(9.2,9.4,1.6),(9.4,9.8,2.4),(9.8,10.2,1.4)],
24:[(9.2,9.4,2.2),(9.4,9.6,3.1),(9.6,9.8,2.3),(9.8,10.2,1.5),(10.2,10.4,1.1)],
25:[(2.6,2.8,2.8),(2.8,3.2,1.5),(3.2,3.4,1.6),(3.4,3.6,2.1),(3.6,3.8,2.5),(3.8,4.0,2.6),(4.0,4.2,2.4),(4.2,4.4,3.4),(4.4,4.6,3.0),(4.6,4.8,3.5),(4.8,5.0,3.2),(5.0,5.4,3.9),(5.4,5.6,3.5),(5.6,5.8,2.7),(5.8,6.0,2.3),(6.0,6.2,2.7),(6.2,6.4,3.0),(6.4,6.6,3.6),(6.6,7.0,2.8),(7.0,7.2,2.5),(7.2,7.6,2.1),(7.6,8.2,2.3),(8.2,8.6,2.5),(8.6,8.8,2.2),(8.8,9.4,2.0)],
26:[(0,0.2,2.4),(0.2,0.4,2.8),(0.4,0.8,3.1),(0.8,1.0,3.7),(1.0,1.4,3.4),(1.4,1.6,2.2),(1.6,1.8,2.8),(1.8,2.2,2.6),(2.2,2.4,2.9),(2.4,2.6,2.5)],
27:[(2.4,2.8,2.5),(2.8,3.0,2.1),(3.0,3.4,2.5),(3.4,4.0,2.6),(4.0,4.4,4.1),(4.4,4.6,3.8),(4.6,4.8,3.1),(4.8,5.0,4.4),(5.0,5.2,3.6),(5.2,5.4,2.2),(5.4,5.6,2.8),(5.6,5.8,2.6),(5.8,6.4,2.9),(6.4,7.0,3.5),(7.0,7.2,2.9),(7.2,7.4,2.7),(7.4,7.6,2.4)],
28:[(7.4,7.6,2.0),(7.6,8.0,2.6),(8.0,8.4,2.7),(8.4,8.8,2.3),(8.8,9.2,2.5),(9.2,9.4,3.1),(9.4,9.8,2.6),(9.8,10.2,2.2)],
29:[(10.0,10.4,1.9),(10.4,10.6,1.6),(10.6,10.8,1.9),(10.8,11.2,2.1)],
30:[(5.4,5.6,2.2),(5.6,5.8,2.6),(5.8,6.0,3.0),(6.0,6.2,2.8),(6.2,6.8,3.8),(6.8,7.0,3.9),(7.0,7.2,3.1),(7.2,7.4,2.9),(7.4,7.8,2.2),(7.8,8.0,2.6),(8.0,8.4,2.4),(8.4,9.0,2.2),(9.0,9.2,1.8),(9.2,9.4,2.7),(9.4,9.6,2.4),(9.6,10.0,1.7),(10.0,10.4,2.1),(10.4,10.8,1.9),(10.8,11.2,2.1)],
31:[(0,0.8,1.8),(0.8,1.0,2.3),(1.0,1.2,2.6),(1.2,1.4,1.8),(1.4,1.8,3.1),(1.8,2.0,3.7),(2.0,2.2,3.1),(2.2,2.8,3.2),(2.8,3.0,2.7),(3.0,3.4,2.5),(3.4,3.6,3.1),(3.6,3.8,2.7),(3.8,4.0,3.0),(4.0,4.2,2.5),(4.2,4.4,3.2),(4.4,4.6,4.5),(4.6,5.0,3.6),(5.0,5.2,3.3),(5.2,5.4,2.8)],
32:[(0,0.2,2.1),(0.2,0.8,2.3),(0.8,1.0,2.5),(1.0,1.2,2.2),(1.2,1.4,2.9),(1.4,1.6,3.8),(1.6,1.8,4.0),(1.8,2.2,3.7),(2.2,2.4,3.9),(2.4,2.6,4.8),(2.6,2.8,4.1),(2.8,3.0,3.7),(3.0,3.4,3.1),(3.4,3.6,2.8),(3.6,3.8,2.0),(3.8,4.0,2.3),(4.0,4.2,2.4),(4.2,4.8,2.6),(4.8,5.4,2.3),(5.4,5.6,1.7),(5.6,6.0,2.0),(6.0,6.2,1.7),(6.2,6.4,2.2),(6.4,6.6,2.8),(6.6,6.8,3.6),(6.8,7.0,4.0),(7.0,7.4,3.7),(7.4,7.8,3.5)],
33:[(7.6,7.8,3.6),(7.8,8.4,3.3),(8.4,8.8,3.0),(8.8,9.0,2.7),(9.0,9.2,1.9),(9.2,9.4,1.8),(9.4,9.6,2.7),(9.6,9.8,2.2),(9.8,10.2,1.8),(10.2,10.4,2.3)],
34:[(10.2,10.4,2.2),(10.4,10.8,1.9),(10.8,11.2,2.6),(11.2,11.6,2.4),(11.6,12,2.1)],
35:[(11.8,12,1.9)],36:[(11.8,12,1.9)],
37:[(7.6,8.0,2.2),(8.0,8.2,2.3),(8.2,8.4,2.5),(8.4,8.6,2.3),(8.6,9.0,1.5),(9.0,9.2,1.8),(9.2,9.6,1.3),(9.6,9.8,1.8),(9.8,10.0,1.2),(10.0,10.2,1.6),(10.2,10.4,1.1),(10.4,10.8,1.9),(10.8,11.0,2.1),(11.0,11.4,1.2),(11.4,11.6,1.8),(11.6,12,1.5)],
38:[(0.8,1.2,2.7),(1.2,1.4,3.2),(1.4,1.6,3.9),(1.6,1.8,4.2),(1.8,2.0,3.8),(2.0,2.2,3.2),(2.2,2.4,2.5),(2.4,3.6,1.8),(3.6,3.8,2.6),(3.8,4.0,2.1),(4.0,4.2,3.4),(4.2,4.8,2.9),(4.8,5.0,2.7),(5.0,5.2,3.4),(5.2,5.6,3.7),(5.6,5.8,3.1),(5.8,6.0,2.8),(6.0,6.4,2.4),(6.4,6.8,2.5),(6.8,7.0,3.1),(7.0,7.2,3.7),(7.2,7.6,2.5)],
39:[(0,0.8,2.2),(0.8,1.0,2.5),(1.0,1.2,3.6),(1.2,1.4,2.9),(1.4,1.6,3.5),(1.6,1.8,4.6),(1.8,2.0,3.2),(2.0,2.2,2.7),(2.2,2.4,2.4),(2.4,2.6,3.7),(2.6,3.2,3.1),(3.2,3.8,2.6),(3.8,4.0,2.2),(4.0,4.2,2.7),(4.2,4.6,3.7),(4.6,4.8,3.6),(4.8,5.0,4.4),(5.0,5.2,3.5),(5.2,5.4,3.3),(5.4,6.0,2.7),(6.0,6.2,3.1),(6.2,6.8,2.1),(6.8,7.0,1.2),(7.0,7.2,0.7)],
40:[(0,0.2,2.4),(0.2,0.6,2.6),(2.2,2.6,2.3),(2.6,2.8,1.3),(2.8,3.0,1.9),(3.0,3.2,3.1),(3.2,3.6,2.2),(3.6,3.8,2.6),(3.8,4.0,2.1),(4.0,4.4,2.0),(4.4,4.8,2.3),(4.8,5.0,2.4),(5.0,5.2,2.8),(5.2,6.2,2.7),(6.2,6.8,2.2),(6.8,7.0,2.1),(7.0,7.2,1.7),(7.2,7.6,1.5),(7.6,8.0,1.2),(8.0,8.2,1.1),(8.2,8.4,0.9),(8.4,8.6,1.3),(8.6,9.0,1.1),(9.0,9.2,1.5),(9.2,9.4,1.0),(9.4,9.6,1.3),(9.6,9.8,1.6)],
41:[(7.2,7.4,2.2),(7.4,7.8,2.0),(7.8,8.4,1.6),(8.4,8.8,1.7),(8.8,9.2,1.1),(9.2,9.4,0.9),(9.4,9.6,1.3),(9.6,9.8,0.8),(9.8,10.0,1.8),(10.0,10.2,1.3),(10.2,10.4,1.9),(10.4,10.6,0.9)],
42:[(9.6,9.8,0.8),(10.2,10.4,0.7),(10.4,10.6,1.6),(10.6,11.0,1.3),(11.0,11.2,1.7),(11.2,11.4,1.2),(11.4,11.6,1.6),(11.6,11.8,1.1),(11.8,12,1.7)],
43:[(7.0,7.2,1.1),(7.2,7.6,1.8),(7.6,7.8,1.5),(7.8,8.0,1.1),(8.0,8.4,1.3),(8.4,8.6,1.1),(8.6,9.4,0.9),(9.4,9.8,1.0),(9.8,10.2,2.2),(10.2,10.4,1.9),(11.8,12,1.9)],
44:[(3.0,3.2,2.0),(3.2,3.4,2.2),(3.4,3.6,3.2),(3.6,3.8,3.6),(3.8,4.0,3.2),(4.0,4.2,2.2),(4.2,4.4,1.6),(4.4,4.8,1.8),(4.8,5.2,2.4),(5.2,5.4,2.0),(5.4,5.8,2.3),(5.8,6.0,2.8),(6.0,6.4,2.4),(6.4,6.6,2.1),(6.6,6.8,2.0),(6.8,7.0,2.3),(7.0,7.2,1.9),(7.8,8.0,0.7),(8.0,8.6,0.4),(8.6,9.2,0.9),(9.2,9.4,0.7),(9.4,10.0,0.9),(10.0,10.2,1.3),(10.2,10.4,1.0),(10.4,10.8,1.3),(10.8,11.0,1.0),(11.0,11.2,1.3),(11.2,11.4,0.4),(11.4,11.6,1.4),(11.6,11.8,0.6),(11.8,12,1.8)],
45:[(0,0.2,1.2),(0.2,0.8,1.7),(0.8,1.0,0.8),(1.0,1.4,1.4),(1.4,1.6,1.8),(1.6,2.0,1.5),(2.0,2.2,2.1),(2.2,2.6,1.9),(2.6,2.8,2.0),(2.8,3.0,1.9),(3.0,3.2,1.6),(3.2,3.4,1.4),(3.4,3.6,1.9),(3.6,4.0,1.2),(4.0,4.4,1.6),(4.4,4.8,1.2),(4.8,5.0,1.9),(5.0,5.4,2.2),(5.4,5.6,2.1),(5.6,6.0,1.9),(6.0,6.4,1.5),(6.4,6.8,1.4),(6.8,7.0,1.2),(7.0,7.8,0.9),(7.8,8.0,1.3),(8.0,8.2,1.7),(8.2,8.8,1.2),(8.8,9.0,1.0),(9.0,9.4,1.6),(9.4,9.6,0.7)],
46:[(1.0,1.4,0.9),(1.4,1.8,1.4),(1.8,2.0,0.9),(2.0,2.2,1.3),(2.2,2.4,1.5),(2.4,2.6,2.0),(2.6,3.0,2.1),(3.0,3.4,1.8),(3.4,3.6,1.5),(3.6,4.0,2.1),(4.0,4.4,1.7),(4.4,5.2,2.3),(5.2,5.4,2.7),(5.4,5.8,2.0),(5.8,6.0,1.6),(6.0,6.4,1.9),(6.4,6.6,1.3),(6.6,7.0,1.6),(7.0,7.4,0.9),(7.4,7.8,0.8),(7.8,8.0,0.6),(8.0,8.2,1.4),(8.2,8.6,0.9)],
47:[(8.6,9.0,1.1),(9.0,9.2,1.0),(9.2,9.8,0.8),(9.8,10.0,1.8),(10.0,10.2,2.1),(10.2,10.4,1.6)],
48:[(7.4,7.8,1.8),(7.8,8.4,1.6),(8.4,9.8,1.3),(9.8,10.2,2.3),(10.2,10.4,1.9)],
49:[(1.2,1.6,0.6),(1.6,1.8,1.3),(1.8,2.0,1.0),(2.0,2.4,0.9),(2.4,2.8,1.0),(2.8,3.4,1.5),(3.4,3.6,1.9),(3.6,3.8,1.8),(3.8,5.0,1.6),(5.0,5.2,1.2),(5.2,5.4,2.4),(5.4,5.8,2.0),(5.8,6.0,1.5),(6.0,6.2,1.1),(6.2,6.4,1.8),(6.4,6.6,2.3),(6.6,6.8,1.4),(6.8,7.4,1.8),(7.4,7.6,1.9)],
50:[(0,0.6,1.1),(0.6,1.0,1.6),(1.0,1.2,1.2),(1.2,2.2,0.6),(2.2,2.4,1.7),(2.4,2.6,0.9),(2.6,2.8,1.6),(2.8,3.0,1.9),(3.0,3.4,2.3)],
51:[(3.4,3.8,2.2),(3.8,4.0,2.5),(4.0,4.6,2.9),(4.6,4.8,2.3),(4.8,5.2,2.2),(5.2,6.0,1.9),(6.0,6.2,2.1),(6.2,6.8,1.9),(6.8,7.0,1.7),(7.0,7.2,1.0),(7.2,7.4,0.4),(7.4,8.0,0.2),(8.0,8.2,0.6)],
52:[(8.0,8.4,0.5),(8.4,8.6,0.3),(8.6,8.8,0.15),(8.8,9.0,0.3),(9.0,9.4,0.5),(9.4,10.0,0.9),(10.0,10.2,1.6),(10.2,10.6,1.3),(10.6,10.8,1.7)],
53:[(10.6,10.8,1.7),(10.8,11.0,1.3),(11.0,11.2,1.0)],
54:[(10.8,11.0,1.1)],55:[(10.8,11.0,1.3)],56:[(10.8,11.0,1.8)],
57:[(5.2,5.8,0.9),(5.8,6.6,1.4),(6.6,6.8,1.1),(6.8,7.6,1.4),(7.6,7.8,1.0),(7.8,8.0,0.8),(8.0,8.2,0.5),(8.2,8.4,1.1),(8.4,8.6,0.6),(8.6,8.8,0.4),(8.8,9.2,0.6),(9.2,9.4,0.9),(9.4,9.6,1.5),(9.6,10.6,2.0),(10.6,10.8,2.2),(10.8,11.0,1.9)],
58:[(0,0.2,0.8),(0.2,0.4,0.5),(0.4,1.8,0.9),(1.8,2.2,1.2),(2.2,2.4,1.9),(2.4,2.6,1.1),(2.6,2.8,2.0),(2.8,3.0,1.7),(3.0,3.2,1.8),(3.2,3.4,2.1),(3.4,3.6,1.9),(3.6,4.0,2.0),(4.0,4.4,1.9),(4.4,5.2,1.0)],
59:[(0,0.4,0.8),(0.4,1.0,0.9),(1.0,1.2,0.6),(1.2,1.8,0.9),(1.8,2.4,1.2),(2.4,2.6,1.5),(2.6,2.8,1.9),(2.8,3.0,1.4),(3.0,3.4,1.9),(3.4,3.6,2.3),(3.6,4.0,1.9),(4.0,4.4,2.0),(4.4,4.8,2.1),(4.8,5.0,1.7),(5.0,5.2,1.9),(5.2,5.6,1.2),(5.6,5.8,1.7),(5.8,6.0,1.4),(6.0,6.4,1.2)],
}

atom4 = {
0:[(1.4,1.6,0.5),(1.6,1.8,0.7),(1.8,2.0,0.9),(2.0,2.4,0.6),(2.4,3.0,0.7),(3.0,3.2,1.1),(3.2,3.6,0.7),(3.6,4.2,0.6),(4.2,4.8,0.9),(4.8,5.8,1.1),(5.8,6.0,0.5),(6.0,6.8,1.0),(6.8,7.0,1.3),(7.0,7.4,0.8),(7.4,8.2,0.6),(8.2,8.4,0.5),(8.4,8.6,0.7)],
1:[(0,0.4,0.9),(0.4,0.8,0.8),(0.8,1.2,0.7),(1.2,1.4,0.9),(1.4,1.6,0.8),(1.6,2.0,0.9),(2.0,2.2,1.4),(2.2,2.4,1.8),(2.4,3.6,2.1)],
2:[(3.4,3.8,2.1),(3.8,4.6,1.9),(4.6,5.2,1.7),(5.2,6.4,1.5),(6.4,6.8,1.4),(6.8,7.0,1.1),(7.0,7.4,1.5),(7.4,7.6,1.0),(7.6,8.0,1.2),(8.0,8.4,1.0)],
3:[(8.4,8.8,0.9),(8.8,9.0,1.1),(9.0,9.4,0.8),(9.4,9.6,1.3),(9.6,10.0,1.9),(10.0,10.2,2.7),(10.2,10.4,2.4),(10.4,11.0,1.9)],
4:[(11.2,11.4,3.5),(11.0,11.2,1.9)],
5:[(6.6,7.0,2.4),(7.0,7.2,1.9),(7.2,7.4,2.3),(7.4,7.6,3.2),(7.6,7.8,4.9),(7.8,8.2,4.0),(8.2,8.4,4.7),(8.4,8.6,4.3),(8.6,8.8,3.9),(8.8,9.4,4.5),(9.4,10.6,4.3),(10.6,10.8,4.0),(10.8,11.0,4.2),(11.0,11.2,4.6),(11.2,11.4,4.3)],
6:[(0,0.8,0.7),(0.8,1.0,1.0),(1.0,1.2,0.7),(1.2,1.4,1.1),(1.4,1.6,1.5),(1.6,2.0,0.8),(2.0,2.2,1.2),(2.2,2.4,1.6),(2.4,2.8,1.2),(2.8,3.0,0.9),(3.0,3.4,0.8),(3.4,3.6,1.5),(3.6,4.0,0.9),(4.0,4.8,1.1),(4.8,5.0,1.3),(5.0,5.6,0.9),(5.6,6.0,1.7),(6.0,6.4,2.2),(6.4,6.6,2.4)],
7:[(0,0.2,0.6),(0.2,0.6,1.0),(0.6,1.2,0.8),(1.2,1.6,1.0),(1.6,2.0,1.2),(2.0,2.4,0.8),(2.4,2.6,1.3),(2.6,3.2,1.7),(3.2,3.6,2.5),(3.6,4.8,2.2)],
8:[(4.8,5.2,2.1),(5.2,5.6,1.9),(5.6,5.8,2.8),(5.8,6.0,3.1),(6.0,6.2,3.3),(6.2,6.4,3.7),(6.4,6.6,4.0),(6.6,7.0,3.4),(7.0,7.2,4.2),(7.2,7.4,4.4),(7.4,7.6,4.9),(7.6,7.8,4.8),(7.8,9.0,5.0)],
9:[(8.8,9.4,5.0),(9.4,9.6,4.7),(9.6,10.0,4.4),(10.0,10.2,4.1),(10.2,10.6,3.8),(10.6,10.8,3.9)],
10:[(10.6,10.8,3.6),(10.8,11.0,3.2),(11.0,11.8,3.7),(11.8,12,3.2)],
11:[(11.8,12,4.0),(11.6,11.8,3.4)],
12:[(6.0,6.2,3.0),(6.2,6.4,4.1),(6.4,8.2,5.0),(8.2,8.8,4.6),(8.8,9.4,4.3),(9.4,9.6,4.9),(9.6,9.8,4.7),(9.8,10.0,4.2),(10.0,10.2,2.9),(10.2,10.4,3.2),(10.4,10.6,4.1),(10.6,11.0,4.6),(11.0,11.2,3.7),(11.2,11.4,2.4),(11.4,11.6,2.9),(11.6,11.8,3.9)],
13:[(0,0.4,1.3),(0.4,1.0,0.8),(1.0,1.6,0.9),(1.6,2.0,1.7),(2.0,2.2,1.9),(2.2,2.4,2.3),(2.4,3.0,2.0),(3.0,3.2,2.8),(3.2,3.4,2.3),(3.4,3.6,3.7),(3.6,4.0,1.9),(4.0,4.8,1.1),(4.8,5.0,1.7),(5.0,5.6,2.1),(5.6,5.8,2.3),(5.8,6.0,3.2)],
14:[(0,0.4,0.7),(0.4,0.6,0.5),(0.6,1.2,0.7),(1.2,1.6,1.1),(1.6,2.0,1.3),(2.0,2.4,1.6),(2.4,2.8,1.9),(2.8,3.2,2.2),(3.2,3.4,1.1),(3.4,3.6,2.6),(3.6,4.2,2.3),(4.2,4.4,2.1),(4.4,4.6,2.7),(4.6,4.8,3.3)],
15:[(4.6,5.0,2.6),(5.0,5.4,2.8),(5.4,5.8,3.4),(5.8,6.0,3.6),(6.0,6.4,4.0),(6.4,6.6,3.8),(6.6,6.8,4.4),(6.8,8.2,5.0),(8.2,8.4,3.7),(8.4,8.6,2.9),(8.6,9.0,2.3)],
16:[(8.8,10.2,2.4),(10.2,10.4,2.1)],
17:[(10.2,10.4,1.8)],
18:[(10.2,10.4,1.8)],
19:[(10.2,10.4,1.6),(10.4,11.2,1.3)],
20:[(11.0,11.2,1.8)],
21:[(1.0,1.2,0.5),(1.2,1.6,0.9),(1.6,1.8,0.6),(1.8,2.0,0.4),(2.0,2.2,1.4),(2.2,2.4,1.1),(2.4,2.8,1.7),(2.8,3.0,0.9),(11.0,11.2,1.4)],
22:[(1.0,1.2,1.4),(1.2,1.4,2.0),(1.4,1.6,1.2),(1.6,2.0,1.5),(2.0,2.2,2.0),(2.2,2.4,2.1),(2.4,3.2,2.0),(3.2,3.4,1.8),(3.4,3.6,0.7),(3.6,4.0,1.5),(4.0,4.2,2.5),(4.2,4.4,2.1),(4.4,4.6,1.6),(4.6,4.8,2.3),(4.8,5.0,1.4),(5.0,5.2,1.9),(5.2,5.4,1.3),(5.4,5.6,2.1),(5.6,5.8,2.6),(5.8,6.0,2.2),(6.0,6.2,1.5),(6.2,6.4,2.0),(6.4,6.6,1.6),(6.6,6.8,1.8),(6.8,7.0,1.0),(7.0,7.4,1.5),(7.4,7.6,0.9),(7.6,7.8,0.3),(7.8,8.0,0.6),(8.0,8.4,1.8),(8.4,8.8,2.1),(8.8,9.2,2.4),(9.2,9.4,2.2),(9.4,9.8,1.9),(10.0,10.6,1.9),(11.0,11.2,1.6)],
23:[(7.8,8.2,0.1),(8.2,8.4,0.4),(8.4,8.6,0.6),(8.6,8.8,1.1),(8.8,9.2,1.0),(9.2,9.6,1.2),(10.8,11.0,2.0),(11.0,11.2,1.1)],
24:[(0,0.2,2.5),(0.2,0.4,3.1),(0.4,0.8,2.0),(0.8,1.2,1.8),(1.2,1.4,1.3),(1.4,2.4,1.5),(2.4,2.8,1.1),(2.8,3.0,1.0),(3.0,3.2,0.4),(3.2,3.6,0.9),(3.6,3.8,0.6),(3.8,4.0,1.0),(4.0,4.6,0.8),(4.6,4.8,1.1),(4.8,5.0,1.8),(5.0,5.2,1.1),(5.2,5.4,1.6),(5.4,5.6,0.8),(5.6,6.0,1.3),(6.0,6.4,1.1),(6.4,6.6,0.9),(6.6,7.0,1.3),(7.0,7.2,1.9),(7.2,7.6,2.1),(7.6,7.8,1.6),(7.8,8.0,0.8),(8.0,8.2,0.6),(8.2,8.6,0.8),(8.6,8.8,0.7)],
25:[(2.6,2.8,2.4),(2.8,3.0,2.1),(3.0,3.2,1.8),(3.2,3.4,1.3),(3.4,3.6,2.3),(3.6,3.8,1.8),(3.8,4.2,1.3),(4.2,4.4,1.6),(4.4,4.6,1.1),(4.6,4.8,1.7),(4.8,5.6,1.5),(5.6,5.8,1.3),(5.8,6.2,2.5),(6.2,6.4,2.8),(6.4,6.8,2.4),(6.8,7.0,2.9)],
26:[(6.8,7.0,2.9),(7.0,7.2,2.2),(7.2,7.4,2.0),(7.4,8.0,1.9),(8.0,8.4,1.2),(8.4,8.8,0.6),(8.8,9.0,0.3)],
27:[(8.8,9.0,1.2),(9.0,9.6,0.7)],
28:[(9.4,9.6,0.9)],
29:[(6.4,6.8,1.5),(6.8,7.2,1.3),(7.2,7.6,0.7),(7.6,8.0,1.4),(8.0,8.4,1.2),(8.4,9.0,0.6),(9.0,9.4,1.2),(9.4,9.6,0.9)],
30:[(0.6,1.4,1.5),(1.4,1.8,1.4),(1.8,2.4,1.1),(2.4,2.6,0.9),(2.6,3.2,1.5),(3.2,3.4,0.5),(3.4,3.8,0.9),(3.8,4.2,1.5),(4.2,4.4,1.2),(4.4,5.0,0.5),(5.0,5.2,0.9),(5.2,5.4,0.7),(5.4,5.6,1.3),(5.6,5.8,0.9),(5.8,6.0,0.5),(6.0,6.4,1.0)],
31:[(0,0.2,1.1),(0.2,0.6,1.5),(0.6,0.8,2.1),(0.8,1.0,1.9),(1.0,1.4,1.6),(1.4,1.8,1.9),(1.8,2.0,4.4),(2.0,2.2,3.7),(2.2,3.0,2.2),(3.0,3.2,1.8),(3.2,3.4,1.3),(3.4,3.8,0.9),(3.8,4.0,0.6),(4.0,4.4,0.2),(4.4,4.6,0.7),(4.6,5.2,0.3),(5.2,5.4,0.9),(5.4,5.6,0.4),(5.6,6.0,1.6),(6.0,6.4,0.3),(6.4,6.6,0.5),(6.6,6.8,1.0),(6.8,7.0,0.5),(7.0,7.2,1.1)],
32:[(7.0,7.2,1.6),(7.2,7.8,1.9),(7.8,8.2,1.6),(8.2,8.4,3.2),(8.4,8.6,3.7),(8.6,8.8,2.7),(8.8,9.2,1.7)],
33:[(9.0,9.6,0.8)],
34:[(9.0,9.2,0.7),(9.2,9.6,0.6)],
35:[(0,0.4,0.5),(0.4,0.8,0.9),(0.8,1.0,1.1),(1.0,1.2,1.3),(1.2,1.4,1.6),(1.4,1.6,2.1),(1.6,1.8,2.4),(1.8,2.0,2.8),(2.0,2.4,3.0),(2.4,2.6,2.3),(2.6,3.0,2.4),(3.0,3.4,2.2),(3.4,3.6,2.9),(3.6,4.0,2.4),(4.0,5.6,1.9),(5.6,5.8,2.1),(5.8,6.0,1.7),(6.0,6.2,1.3),(6.2,6.6,1.9),(6.6,6.8,1.5),(6.8,7.0,0.9),(7.0,7.2,1.7),(7.2,7.4,0.9),(7.4,7.8,1.2),(7.8,8.0,1.0),(8.0,8.2,0.6),(8.2,9.0,0.4),(9.0,9.4,0.1),(9.4,9.6,0.3),(9.6,10.4,1.5),(10.4,10.8,2.1)],
36:[(7.4,7.8,2.6),(7.8,8.6,2.1),(8.6,8.8,1.5),(8.8,9.2,1.9),(9.2,9.4,1.4),(9.4,10.0,2.1),(10.0,10.4,2.7),(10.4,10.8,2.3)],
37:[(1.4,1.6,3.0),(1.6,1.8,4.5),(1.8,2.0,5.0),(2.0,2.2,3.0),(2.2,3.0,1.3),(3.0,3.2,1.9),(3.2,3.4,2.6),(3.4,3.8,2.1),(3.8,4.2,2.3),(4.2,4.4,2.0),(4.4,4.6,2.2),(4.6,5.0,1.9),(5.0,5.2,2.2),(5.2,5.4,1.4),(5.4,5.6,0.8),(5.6,5.8,1.8),(5.8,6.0,1.4),(6.0,6.4,2.0),(6.4,6.6,2.6),(6.6,6.8,1.4),(6.8,7.0,2.1),(7.0,7.4,2.4)],
38:[(0,0.4,1.4),(0.4,0.6,1.0),(0.6,0.8,1.6),(0.8,1.0,2.1),(1.0,1.2,2.4),(1.2,1.6,2.7),(1.6,1.8,3.2),(1.8,2.0,4.3),(2.0,2.2,3.0),(2.2,2.6,2.4),(2.6,2.8,2.8)],
39:[(2.6,3.0,2.7),(3.0,3.2,3.1),(3.2,3.4,3.4),(3.4,3.6,3.6),(3.6,3.8,3.4),(3.8,4.0,3.1),(4.0,4.2,2.2),(4.2,4.8,2.0),(4.8,5.0,1.7),(5.0,5.6,0.8),(5.6,5.8,0.5),(5.8,6.0,1.0),(6.0,6.2,1.5),(6.2,6.6,1.9),(6.6,6.8,1.3),(6.8,7.0,0.6),(7.0,7.2,1.1),(7.2,7.4,0.8)],
40:[(7.2,8.6,0.6),(8.6,9.0,0.9),(9.0,9.2,1.9),(9.2,9.4,1.4),(9.4,9.6,1.3),(9.6,9.8,0.8)],
41:[(9.6,10.0,0.8),(10.0,10.2,0.7),(10.2,10.6,0.8),(10.6,10.8,1.2)],
42:[(10.6,10.8,1.3)],
43:[(6.2,6.4,2.1),(6.4,6.6,1.3),(6.6,6.8,0.8),(6.8,7.0,1.8),(7.0,7.6,1.4),(7.6,7.8,0.9),(7.8,8.0,1.2),(8.0,8.2,1.7),(8.2,8.6,1.1),(8.6,9.2,1.0),(9.2,9.6,1.5),(9.6,10.2,1.8),(10.2,10.8,1.4)],
44:[(3.0,3.4,1.2),(3.4,3.6,0.6),(3.6,3.8,0.9),(3.8,4.0,1.6),(4.0,4.4,1.2),(4.4,5.6,1.4),(5.6,6.0,1.7),(6.0,6.2,1.9),(6.2,6.4,2.1)],
45:[(0,1.0,0.5),(1.0,1.2,2.0),(1.2,1.4,2.3),(1.4,1.6,3.6),(1.6,1.8,3.2),(1.8,2.2,4.9),(2.2,2.4,2.4),(2.4,2.8,2.2),(2.8,3.0,2.4)],
46:[(1.2,1.4,3.1),(1.4,1.6,3.6),(1.6,1.8,3.2),(1.8,2.0,4.5),(2.0,2.2,3.7),(2.2,2.4,3.1),(2.4,2.6,2.9),(2.6,3.0,2.5),(3.0,3.2,2.3),(3.2,3.6,1.7),(3.6,3.8,2.2),(3.8,4.0,1.9),(4.0,4.2,2.1),(4.2,4.4,2.7),(4.4,4.8,2.3),(4.8,5.0,1.9),(5.0,5.2,2.2),(5.2,5.4,2.4),(5.4,5.6,2.2),(5.6,6.0,1.9),(6.0,6.2,2.2)],
47:[(6.0,6.2,2.2),(6.2,6.4,1.5),(6.4,6.6,1.1),(6.6,7.2,1.6),(7.2,8.0,1.1),(8.0,8.6,0.7),(8.6,9.6,1.1),(9.6,9.8,1.8)],
48:[(9.6,9.8,0.7),(9.8,10.0,1.1),(10.0,10.4,1.3),(10.4,10.8,1.1)],
49:[(9.4,9.8,1.0),(9.8,10.2,1.2),(10.2,10.4,1.8),(10.4,10.8,1.4)],
50:[(4.2,4.4,2.4),(4.4,4.8,3.0),(4.8,6.2,2.4),(6.2,6.4,2.0),(6.4,6.8,1.9),(6.8,7.0,1.0),(7.0,7.4,1.6),(7.4,7.6,2.0),(7.6,7.8,1.8),(7.8,8.4,0.9),(8.4,8.8,0.7),(8.8,9.0,0.4),(9.0,9.2,0.9),(9.2,9.6,0.6)],
51:[(0,0.2,0.9),(0.2,0.6,0.6),(0.6,0.8,0.3),(0.8,1.2,0.5),(1.2,1.4,0.9),(1.4,1.6,1.2),(1.6,2.0,1.5),(2.0,2.2,2.0),(2.2,2.4,2.5),(2.4,2.6,2.2),(2.6,2.8,1.9),(2.8,3.0,2.2),(3.0,3.4,2.1),(3.4,3.8,2.5),(3.8,4.2,2.2)],
52:[(0.4,0.6,0.8),(0.6,0.8,1.1),(0.8,1.0,0.6),(1.0,1.4,0.9),(1.4,1.6,1.1),(1.6,2.0,2.3),(2.0,2.6,2.9),(2.6,2.8,2.6),(2.8,3.4,2.4),(3.4,3.6,3.0),(3.6,4.2,2.7),(4.2,4.4,2.6),(4.4,4.8,2.8),(4.8,5.0,2.9),(5.0,5.4,2.4),(5.4,5.8,2.6),(5.8,6.0,3.1),(6.0,6.2,2.3),(6.2,6.6,2.1),(6.6,6.8,2.3),(6.8,7.2,1.9),(7.2,7.4,1.8)],
53:[(7.2,7.6,1.9),(7.6,8.0,1.7),(8.0,8.4,1.2),(8.4,8.6,0.9),(8.6,8.8,1.4),(8.8,9.0,1.5),(9.0,9.2,1.9)],
54:[(9.0,9.6,2.2),(9.6,9.8,2.4),(9.8,10.0,2.6),(10.0,10.2,2.8),(10.2,10.6,3.1)],
55:[(10.4,10.6,3.1)],
56:[(10.4,10.6,3.1)],
57:[(10.4,10.6,2.2)],
58:[(10.4,10.6,2.2),(10.2,10.4,2.0)],
59:[(10.2,10.4,2.0)],
}

W, H = 2067, 1184
jet = [[0, "#000080"], [0.125, "#0000ff"], [0.375, "#00ffff"],
       [0.625, "#ffff00"], [0.875, "#ff0000"], [1, "#800000"]]
lat_centers = np.arange(60) - 29.5
alt_centers = (np.arange(60) + 0.5) * 0.2


def grid(profile):
    z = np.full((60, 60), np.nan)
    for col, runs in profile.items():
        for lo, hi, v in runs:
            z[int(round(lo / 0.2)):int(round(hi / 0.2)), col] = v
    return z


profiles = [atom1, atom2, atom3, atom4]
boxes = [(106, 775.5, 58, 484.6, 828, 879), (1204, 1873.5, 58, 484.6, 1927, 1978),
         (106, 775.5, 650, 1076, 828, 879), (1204, 1873.5, 650, 1076, 1927, 1978)]
font = "Liberation Sans"
fig = go.Figure()
annots = []
axcolor = "#262626"

for i, (prof, box, title) in enumerate(zip(profiles, boxes, panel_titles)):
    x0, x1, y0, y1, cx0, cx1 = box
    n = "" if i == 0 else str(i + 1)
    fig.add_trace(go.Heatmap(
        z=grid(prof), x=lat_centers, y=alt_centers, zmin=0, zmax=5, colorscale=jet,
        xaxis="x" + n, yaxis="y" + n, hoverongaps=False,
        colorbar=dict(x=cx0 / W, xanchor="left", xref="paper", y=1 - y1 / H, yanchor="bottom", yref="paper",
                      len=(y1 - y0) / H, lenmode="fraction", thickness=cx1 - cx0, thicknessmode="pixels",
                      tickvals=cbar_ticks, ticks="inside", ticklen=6, tickcolor=axcolor, tickwidth=1.5,
                      outlinecolor=axcolor, outlinewidth=1.5, ypad=0, xpad=0,
                      tickfont=dict(family=font, size=28, color="#1a1a1a"))))
    fig.update_layout({
        "xaxis" + n: dict(domain=[x0 / W, x1 / W], range=[-30, 30], tickvals=lat_ticks, ticktext=lat_labels,
                          ticks="inside", ticklen=9, tickwidth=1.5, tickcolor=axcolor, showline=True, linecolor=axcolor,
                          linewidth=1.5, mirror="ticks", showgrid=False, zeroline=False, anchor="y" + n,
                          ticklabelstandoff=2,
                          tickfont=dict(family=font, size=29, color="#1a1a1a")),
        "yaxis" + n: dict(domain=[1 - y1 / H, 1 - y0 / H], range=[0, 12], tickvals=alt_ticks,
                          ticks="inside", ticklen=9, tickwidth=1.5, tickcolor=axcolor, showline=True, linecolor=axcolor,
                          linewidth=1.5, mirror="ticks", showgrid=False, zeroline=False, anchor="x" + n,
                          ticklabelstandoff=7,
                          tickfont=dict(family=font, size=28, color="#1a1a1a")),
    })
    annots.append(dict(text="<b>%s</b>" % title, x=((x0 + x1) / 2 - 4) / W, y=1 - (y0 - 26) / H, xref="paper", yref="paper",
                       xanchor="center", yanchor="middle", showarrow=False,
                       font=dict(family=font, size=38, color="black")))
    annots.append(dict(text="ppb/d", x=(cx1 + 60) / W, y=1 - (y0 + 209) / H, xref="paper", yref="paper",
                       xanchor="center", yanchor="middle", textangle=-90, showarrow=False,
                       font=dict(family=font, size=25, color="#262626")))
    annots.append(dict(text="Latitude", x=(x0 + x1) / 2 / W, y=1 - (y1 + 76) / H, xref="paper", yref="paper",
                       xanchor="center", yanchor="middle", showarrow=False,
                       font=dict(family=font, size=37, color="#262626")))
    annots.append(dict(text="Pressure Altitude (km)", x=(x0 - 73) / W, y=1 - (y0 + 213) / H, xref="paper", yref="paper",
                       xanchor="center", yanchor="middle", textangle=-90, showarrow=False,
                       font=dict(family=font, size=37, color="#262626")))

fig.update_layout(width=W, height=H, margin=dict(l=0, r=0, t=0, b=0, autoexpand=False),
                  paper_bgcolor="white", plot_bgcolor="white", annotations=annots, showlegend=False)
fig.write_html("out.html", config={"displayModeBar": False},
               post_script="document.body.style.margin='0';document.body.style.overflow='hidden';")
